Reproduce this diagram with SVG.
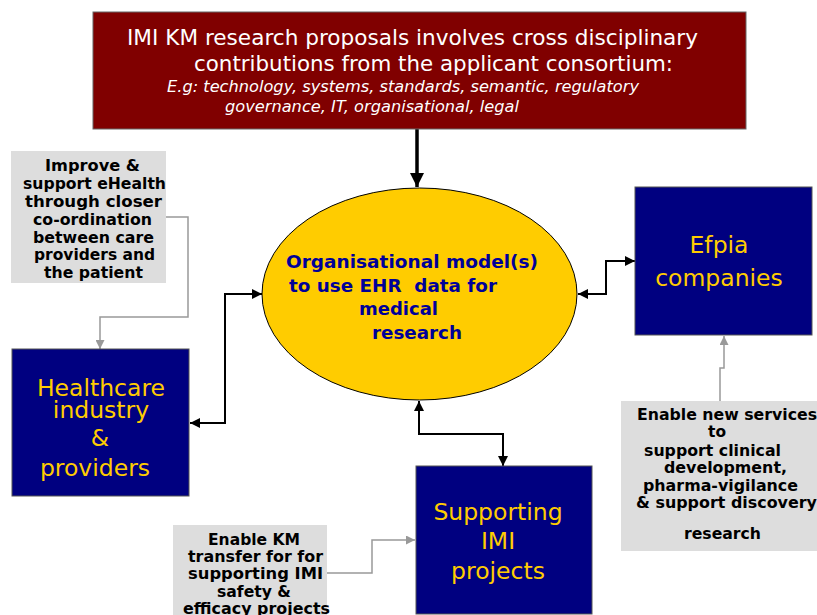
<svg xmlns="http://www.w3.org/2000/svg" width="817" height="615" viewBox="0 0 817 615">
<style>
.t{font-family:"DejaVu Sans",Verdana,sans-serif;white-space:pre}
.title{fill:#fff;font-size:20.5px}
.it{fill:#fff;font-size:15.5px;font-style:italic}
.blue{fill:#000080;stroke:#555;stroke-width:1}
.yl{fill:#FFCC00;font-size:23.5px;text-anchor:middle}
.gray{fill:#DDDDDD}
.gt{fill:#000;font-size:15px;font-weight:bold}
.ct{fill:#000099;font-size:17px;font-weight:bold}
.bk{fill:none;stroke:#000;stroke-width:2}
.gl{fill:none;stroke:#999;stroke-width:1.5}
</style>
<defs>
<marker id="ab" viewBox="0 0 10 10" refX="10" refY="5" markerWidth="5" markerHeight="5" orient="auto-start-reverse" markerUnits="strokeWidth"><path d="M0,0 L10,5 L0,10 z" fill="#000"/></marker>
<marker id="abt" viewBox="0 0 10 10" refX="10" refY="5" markerWidth="4" markerHeight="4" orient="auto" markerUnits="strokeWidth"><path d="M0,0 L10,5 L0,10 z" fill="#000"/></marker>
<marker id="ag" viewBox="0 0 10 10" refX="10" refY="5" markerWidth="6" markerHeight="6" orient="auto" markerUnits="strokeWidth"><path d="M0,0 L10,5 L0,10 z" fill="#999"/></marker>
</defs>

<g id="connectors">
<line x1="417" y1="129" x2="417" y2="187" stroke="#000" stroke-width="3.5" marker-end="url(#abt)"/>
<polyline class="bk" points="190,423 225,423 225,294 262,294" marker-start="url(#ab)" marker-end="url(#ab)"/>
<polyline class="bk" points="578,294 606,294 606,261 635,261" marker-start="url(#ab)" marker-end="url(#ab)"/>
<polyline class="bk" points="419,401 419,434 503,434 503,466" marker-start="url(#ab)" marker-end="url(#ab)"/>
<polyline class="gl" points="166,217 188,217 188,317 100,317 100,349" marker-end="url(#ag)"/>
<polyline class="gl" points="720,401 720,368 724,368 724,336" marker-end="url(#ag)"/>
<polyline class="gl" points="327,573 372,573 372,540 415,540" marker-end="url(#ag)"/>
</g>

<g id="top">
<rect x="93" y="12" width="653" height="117" fill="#800000" stroke="#666" stroke-width="1"/>
<text class="t title" x="127" y="45" textLength="571" lengthAdjust="spacingAndGlyphs">IMI KM research proposals involves cross disciplinary</text>
<text class="t title" x="194" y="71" textLength="479" lengthAdjust="spacingAndGlyphs">contributions from the applicant consortium:</text>
<text class="t it" x="167" y="92" textLength="472" lengthAdjust="spacingAndGlyphs">E.g: technology, systems, standards, semantic, regulatory</text>
<text class="t it" x="225" y="112" textLength="294" lengthAdjust="spacingAndGlyphs">governance, IT, organisational, legal</text>
</g>

<g id="center">
<ellipse cx="419.5" cy="294" rx="157.5" ry="106" fill="#FFCC00" stroke="#000" stroke-width="1"/>
<text class="t ct" x="286" y="268" textLength="252" lengthAdjust="spacingAndGlyphs">Organisational model(s)</text>
<text class="t ct" x="289" y="292" textLength="208" lengthAdjust="spacingAndGlyphs">to use EHR  data for</text>
<text class="t ct" x="359" y="315" textLength="79" lengthAdjust="spacingAndGlyphs">medical</text>
<text class="t ct" x="372" y="339" textLength="90" lengthAdjust="spacingAndGlyphs">research</text>
</g>

<g id="ehealth">
<rect class="gray" x="11" y="151" width="155" height="132"/>
<g class="t gt">
<text x="45" y="171" textLength="95" lengthAdjust="spacingAndGlyphs">Improve &amp;</text>
<text x="23" y="189" textLength="143" lengthAdjust="spacingAndGlyphs">support eHealth</text>
<text x="25" y="207" textLength="137" lengthAdjust="spacingAndGlyphs">through closer</text>
<text x="33" y="225" textLength="119" lengthAdjust="spacingAndGlyphs">co-ordination</text>
<text x="33" y="243" textLength="121" lengthAdjust="spacingAndGlyphs">between care</text>
<text x="34" y="260" textLength="121" lengthAdjust="spacingAndGlyphs">providers and</text>
<text x="44" y="278" textLength="99" lengthAdjust="spacingAndGlyphs">the patient</text>
</g>
</g>

<g id="healthcare">
<rect class="blue" x="12" y="349" width="177" height="147"/>
<text class="t yl" x="101" y="396">Healthcare</text>
<text class="t yl" x="101" y="418">industry</text>
<text class="t yl" x="100" y="446">&amp;</text>
<text class="t yl" x="95" y="476">providers</text>
</g>

<g id="efpia">
<rect class="blue" x="635" y="187" width="177" height="148"/>
<text class="t yl" x="719" y="253">Efpia</text>
<text class="t yl" x="719" y="286">companies</text>
</g>

<g id="services">
<rect class="gray" x="621" y="401" width="200" height="150"/>
<g class="t gt">
<text x="637" y="420" textLength="180" lengthAdjust="spacingAndGlyphs">Enable new services</text>
<text x="708" y="437" textLength="18" lengthAdjust="spacingAndGlyphs">to</text>
<text x="644" y="456" textLength="137" lengthAdjust="spacingAndGlyphs">support clinical</text>
<text x="664" y="473" textLength="123" lengthAdjust="spacingAndGlyphs">development,</text>
<text x="643" y="491" textLength="155" lengthAdjust="spacingAndGlyphs">pharma-vigilance</text>
<text x="636" y="508" textLength="181" lengthAdjust="spacingAndGlyphs">&amp; support discovery</text>
<text x="684" y="539" textLength="77" lengthAdjust="spacingAndGlyphs">research</text>
</g>
</g>

<g id="supporting">
<rect class="blue" x="416" y="466" width="176" height="148"/>
<text class="t yl" x="498" y="520">Supporting</text>
<text class="t yl" x="498" y="549">IMI</text>
<text class="t yl" x="498" y="579">projects</text>
</g>

<g id="kmtransfer">
<rect class="gray" x="173" y="525" width="154" height="95"/>
<g class="t gt">
<text x="208" y="545" textLength="92" lengthAdjust="spacingAndGlyphs">Enable KM</text>
<text x="188" y="562" textLength="135" lengthAdjust="spacingAndGlyphs">transfer for for</text>
<text x="188" y="579" textLength="135" lengthAdjust="spacingAndGlyphs">supporting IMI</text>
<text x="217" y="597" textLength="74" lengthAdjust="spacingAndGlyphs">safety &amp;</text>
<text x="183" y="614" textLength="147" lengthAdjust="spacingAndGlyphs">efficacy projects</text>
</g>
</g>
</svg>
